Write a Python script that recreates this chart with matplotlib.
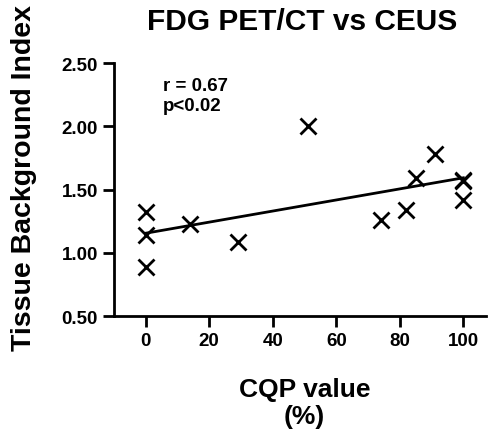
import numpy as np
import matplotlib
matplotlib.use('Agg')
import matplotlib.pyplot as plt

plt.rcParams['font.family'] = ['Liberation Sans', 'DejaVu Sans']
plt.rcParams['font.weight'] = 'bold'

# CQP value (%) and tissue background index
cqp = [0, 0, 0, 14, 29, 51, 74, 82, 85, 91, 100, 100, 100]
tbi = [1.32, 1.14, 0.89, 1.23, 1.09, 2.00, 1.26, 1.34, 1.59, 1.78, 1.58, 1.57, 1.42]

xticks = [0, 20, 40, 60, 80, 100]
yticks = [0.50, 1.00, 1.50, 2.00, 2.50]

fig = plt.figure(figsize=(4.89, 4.31), dpi=100)
ax = fig.add_axes([0.233, 0.264, 0.76, 0.587])

ax.plot(cqp, tbi, 'x', color='black', markersize=11, markeredgewidth=2, clip_on=False)

# linear regression line
slope, icpt = np.polyfit(cqp, tbi, 1)
xl = np.array([0, 100])
ax.plot(xl, slope * xl + icpt, color='black', linewidth=2)

ax.set_xlim(-10, 107)
ax.set_ylim(0.5, 2.5)
ax.set_xticks(xticks)
ax.set_yticks(yticks)
ax.set_yticklabels(['%.2f' % v for v in yticks])

for s in ['top', 'right']:
    ax.spines[s].set_visible(False)
for s in ['left', 'bottom']:
    ax.spines[s].set_linewidth(2)
ax.tick_params(width=2, length=8, labelsize=13.5, direction='out')
for lab in ax.get_xticklabels() + ax.get_yticklabels():
    lab.set_fontweight('bold')

fig.text(0.618, 0.949, 'FDG PET/CT vs CEUS', fontsize=21.5, fontweight='bold',
         ha='center', va='center')
fig.text(0.623, 0.064, 'CQP value\n(%)', fontsize=19, fontweight='bold',
         ha='center', va='center', linespacing=1.2)
fig.text(0.049, 0.588, 'Tissue Background Index', fontsize=20.5, fontweight='bold',
         ha='center', va='center', rotation=90)

ax.text(5.3, 2.39, 'r = 0.67\np<0.02', fontsize=13.5, fontweight='bold', va='top', linespacing=1.2)

fig.savefig('out.png', dpi=100)
